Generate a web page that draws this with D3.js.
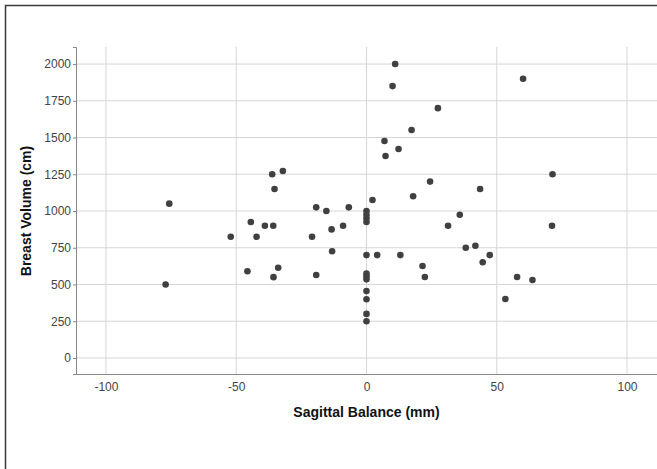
<!DOCTYPE html>
<html>
<head>
<meta charset="utf-8">
<script src="https://cdn.jsdelivr.net/npm/d3@7"></script>
<style>
  body { margin: 0; background: #fff; }
  svg { display: block; font-family: "Liberation Sans", Arial, sans-serif; }
</style>
</head>
<body>
<div id="chart"></div>
<script>
// Sagittal balance (mm) vs breast volume, one entry per patient
const sagittal = [
  -75.7, -77.1, -52.1, -45.7, -44.4, -42.2, -39.0, -36.2, -35.3, -35.8,
  -35.7, -33.9, -32.1, -20.9, -19.3, -19.3, -15.4, -13.4, -13.2, -9.0,
  -6.8, 0, 0, 0, 0, 0, 0, 0, 0, 0,
  0, 0, 0, 2.3, 4.1, 6.9, 7.3, 10.0, 11.0, 12.3,
  13.0, 17.3, 17.9, 21.5, 22.4, 24.4, 27.4, 31.3, 35.8, 38.1,
  41.8, 43.6, 44.6, 47.3, 53.3, 57.8, 60.1, 63.7, 71.4, 71.2
];
const volume = [
  1050, 500, 825, 590, 925, 825, 900, 1250, 1150, 900,
  550, 614, 1272, 825, 1025, 565, 1000, 875, 726, 900,
  1025, 1000, 975, 950, 925, 700, 575, 555, 535, 455,
  400, 300, 250, 1075, 700, 1476, 1374, 1850, 2000, 1422,
  700, 1551, 1100, 626, 551, 1200, 1700, 900, 975, 750,
  764, 1150, 651, 700, 401, 551, 1900, 531, 1250, 900
];
const xTicks = [-100, -50, 0, 50, 100];
const yTicks = [0, 250, 500, 750, 1000, 1250, 1500, 1750, 2000];

const width = 657, height = 469;
const margin = { top: 47, right: 0, bottom: 95, left: 76 };

const svg = d3.select("#chart").append("svg")
  .attr("width", width)
  .attr("height", height);

// outer frame (left and top edges only are visible)
svg.append("path")
  .attr("d", `M5.5,${height} V5.5 H${width}`)
  .attr("fill", "none")
  .attr("stroke", "#3a3a3a")
  .attr("stroke-width", 1.5);

const x = d3.scaleLinear()
  .domain([-111.5, 111.5])
  .range([margin.left, width - margin.right]);

const y = d3.scaleLinear()
  .domain([-109, 2116])
  .range([height - margin.bottom, margin.top]);

// plain hyphen minus, no thousands separator
const fmt = d => String(d);

// --- Grid ---
svg.append("g")
  .selectAll("line")
  .data(xTicks)
  .join("line")
  .attr("x1", d => x(d)).attr("x2", d => x(d))
  .attr("y1", margin.top).attr("y2", height - margin.bottom)
  .attr("stroke", "#d6d6d6");

svg.append("g")
  .selectAll("line")
  .data(yTicks)
  .join("line")
  .attr("x1", margin.left).attr("x2", width - margin.right)
  .attr("y1", d => y(d)).attr("y2", d => y(d))
  .attr("stroke", "#d6d6d6");

// --- Axes ---
const xAxis = svg.append("g")
  .attr("transform", `translate(0,${height - margin.bottom})`)
  .call(d3.axisBottom(x).tickValues(xTicks).tickFormat(fmt).tickSize(0).tickPadding(8));

const yAxis = svg.append("g")
  .attr("transform", `translate(${margin.left},0)`)
  .call(d3.axisLeft(y).tickValues(yTicks).tickFormat(fmt).tickSize(3).tickPadding(2));

[xAxis, yAxis].forEach(g => {
  g.select(".domain").attr("stroke", "#888");
  g.selectAll(".tick line").attr("stroke", "#888");
  g.selectAll(".tick text")
    .attr("fill", "#444")
    .style("font-size", "12px")
    .style("font-family", "'Liberation Sans', Arial, sans-serif");
});
// x axis line spans whole plot width
xAxis.select(".domain").attr("d", `M${margin.left},0.5H${width}`);

// --- Points ---
svg.append("g")
  .selectAll("circle")
  .data(sagittal.map((s, i) => ({ s, v: volume[i] })))
  .join("circle")
  .attr("cx", d => x(d.s))
  .attr("cy", d => y(d.v))
  .attr("r", 3.3)
  .attr("fill", "#404040");

// --- Axis titles ---
svg.append("text")
  .attr("x", x(0))
  .attr("y", 417)
  .attr("text-anchor", "middle")
  .style("font-size", "14px")
  .style("font-weight", "bold")
  .attr("fill", "#111")
  .text("Sagittal Balance (mm)");

svg.append("text")
  .attr("transform", `translate(31,${y(1000)}) rotate(-90)`)
  .attr("text-anchor", "middle")
  .style("font-size", "14px")
  .style("font-weight", "bold")
  .attr("fill", "#111")
  .text("Breast Volume (cm)");
</script>
</body>
</html>
